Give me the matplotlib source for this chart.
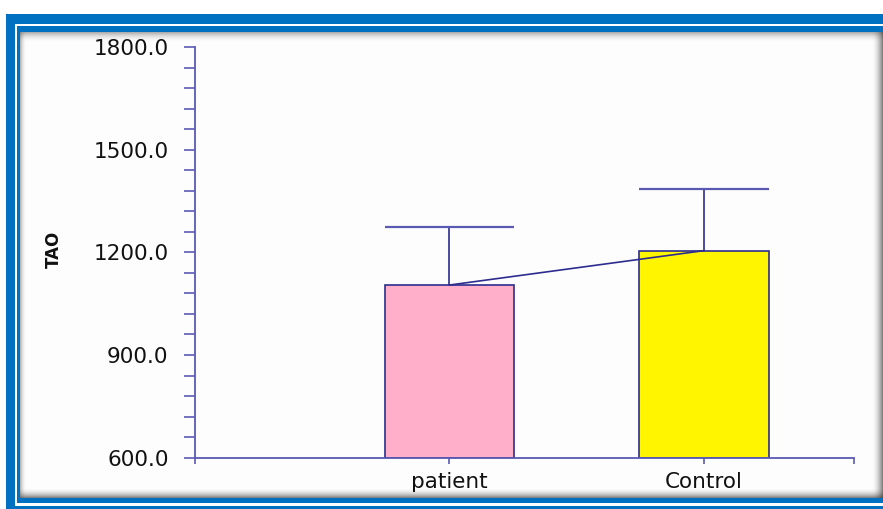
import matplotlib.pyplot as plt
from matplotlib.patches import Rectangle

# group means and SDs for total antioxidant (TAO)
groups = ["patient", "Control"]
means = [1104.5, 1205.0]
sds = [168.5, 181.0]
colors = ["#ffafc9", "#fff500"]

y_major = [600, 900, 1200, 1500, 1800]

W, H = 883, 509
fig = plt.figure(figsize=(W / 100, H / 100), dpi=100)
fig.patch.set_facecolor("white")

# framed panel drawn in pixel space behind the plot
bg = fig.add_axes([0, 0, 1, 1], zorder=-1)
bg.set_xlim(0, W)
bg.set_ylim(H, 0)
bg.axis("off")
blue = "#0070c0"
bg.add_patch(Rectangle((6, 14), W + 10, H, color=blue, lw=0))
bg.add_patch(Rectangle((15, 24), W + 10, 482, color="white", lw=0))
bg.add_patch(Rectangle((17, 26), W + 10, 477, color=blue, lw=0))
bg.add_patch(Rectangle((20, 32), W, 466, color="#fdfdfd", lw=0))

# soft inset shadow along the panel edges
for k in range(10):
    a = 0.45 * (1 - k / 10) ** 2
    bg.add_patch(Rectangle((20, 32 + k), W, 1, color="#505050", alpha=a, lw=0))
    bg.add_patch(Rectangle((20, 497 - k), W, 1, color="#303030", alpha=a * 1.3, lw=0))
for k in range(11):
    a = 0.6 * (1 - k / 11) ** 2
    bg.add_patch(Rectangle((882 - k, 32), 1, 466, color="#303030", alpha=a, lw=0))
for k in range(6):
    a = 0.4 * (1 - k / 6) ** 2
    bg.add_patch(Rectangle((20 + k, 32), 1, 466, color="#505050", alpha=a, lw=0))

ax = fig.add_axes([195 / W, 1 - 457.7 / H, 659 / W, 410.7 / H])
ax.patch.set_alpha(0)

axis_col = "#5a5ab4"
edge_col = "#2d2d90"
pos = [1, 2]
width = 0.51

ax.bar(pos, [m - 600 for m in means], bottom=600, width=width, color=colors,
       edgecolor=edge_col, linewidth=1.2, zorder=2)
# upper SD whiskers with caps as wide as the bars
for x, m, s in zip(pos, means, sds):
    ax.vlines(x, m, m + s, color=edge_col, lw=1.2, zorder=3)
    ax.hlines(m + s, x - width / 2, x + width / 2, color=axis_col, lw=1.6, zorder=3)
ax.plot(pos, means, color=edge_col, lw=1.2, zorder=4)

ax.set_xlim(0, 2.59)
ax.set_ylim(600, 1800)
ax.set_yticks(y_major)
ax.set_yticklabels([f"{v:.1f}" for v in y_major])
ax.set_yticks(range(600, 1801, 60), minor=True)
ax.set_xticks([0, 1, 2, 2.59])
ax.set_xticklabels(["", groups[0], groups[1], ""])

for side in ["top", "right"]:
    ax.spines[side].set_visible(False)
for side in ["left", "bottom"]:
    ax.spines[side].set_color(axis_col)
    ax.spines[side].set_linewidth(1.3)

ax.tick_params(axis="y", which="both", direction="out", length=8, width=1.2,
               color=axis_col, pad=11, labelsize=15.5, labelcolor="#111111")
ax.tick_params(axis="x", direction="out", length=4, width=1.2, color=axis_col,
               pad=6, labelsize=15.5, labelcolor="#111111")

ax.set_ylabel("TAO", fontsize=12, fontweight="bold", color="#111111",
              family=["Liberation Sans Narrow", "DejaVu Sans"])
ax.yaxis.set_label_coords(-0.2003, 0.508)

fig.savefig("out.png", dpi=100)
